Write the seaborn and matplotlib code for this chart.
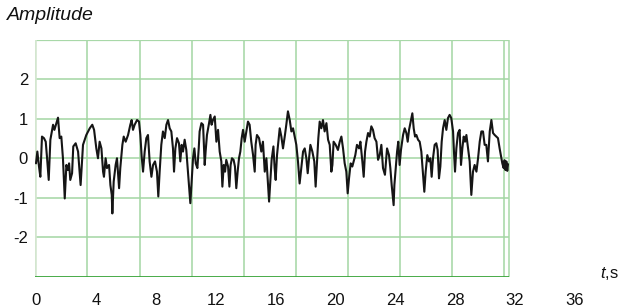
import numpy as np
import pandas as pd
import matplotlib
matplotlib.use("Agg")
import matplotlib.pyplot as plt
import seaborn as sns

# ---- data ----
t_seg1 = [0.00,0.09,0.20,0.29,0.40,0.53,0.65,0.74,0.85,0.96,1.14,1.23,1.36,1.47,1.58,1.69,1.80,1.92,2.03,2.12,
          2.21,2.29,2.41,2.49,2.65,2.81,2.98,3.14,3.36,3.59,3.76,3.88,4.03,4.14,4.25,4.37,4.48,4.54,4.65,4.74,
          4.88,4.97,5.06,5.10,5.19,5.32,5.41,5.55,5.63,5.77,5.86,5.99,6.15,6.30,6.39,6.48,6.59,6.75,6.88,6.97,
          7.06,7.15,7.26,7.37,7.48,7.59,7.71,7.82,7.95]
amp_seg1 = [-0.13,0.17,-0.21,-0.47,0.55,0.51,0.42,0.00,-0.55,0.47,0.85,0.72,0.89,1.03,0.51,0.55,0.00,-1.02,-0.17,-0.30,
            -0.13,-0.55,-0.38,0.30,0.38,0.17,-0.68,0.34,0.59,0.76,0.85,0.72,0.25,0.00,0.42,0.25,-0.34,-0.47,0.00,-0.25,
            -0.17,-0.68,-0.93,-1.40,-0.59,-0.17,0.00,-0.76,-0.25,0.34,0.55,0.42,0.59,0.85,0.97,0.72,0.85,0.97,0.93,0.59,
            0.04,-0.34,0.17,0.51,0.59,-0.08,-0.47,-0.17,-0.08]

t_seg2 = [8.08,8.17,8.26,8.37,8.48,8.60,8.71,8.82,8.93,9.04,9.15,9.22,9.31,9.42,9.55,9.64,9.73,9.82,9.93,10.04,
          10.13,10.22,10.31,10.40,10.49,10.58,10.67,10.78,10.87,10.93,11.05,11.16,11.27,11.33,11.42,11.56,11.65,11.73,11.82,11.94,
          12.05,12.16,12.27,12.38,12.45,12.54,12.63,12.71,12.83,12.92,13.00,13.09,13.20,13.29,13.38,13.47,13.56,13.65,13.74,13.83,
          13.94,14.05,14.16,14.27,14.38,14.50,14.61,14.67,14.76,14.90,15.05,15.16,15.28,15.39,15.48,15.57,15.65,15.74]
amp_seg2 = [-0.34,-0.97,-0.34,0.34,0.68,0.51,0.85,0.97,0.76,0.68,0.25,-0.34,0.25,0.51,0.38,-0.08,0.34,0.17,0.47,0.21,
            -0.25,-0.68,-1.14,-0.59,0.00,0.25,-0.13,-0.25,0.25,0.68,0.89,0.85,-0.17,0.17,0.59,0.89,1.10,0.85,0.97,1.06,
            0.42,0.72,0.17,-0.08,-0.72,-0.17,-0.34,-0.04,-0.21,-0.72,-0.17,0.00,-0.04,-0.21,-0.76,-0.34,0.00,0.17,0.51,0.72,
            0.42,0.68,0.93,0.85,0.42,0.08,-0.34,0.34,0.59,0.51,0.17,0.42,-0.34,0.00,-0.55,-1.10,-0.59,-0.04]

t_seg3 = [15.86,15.94,16.01,16.10,16.19,16.28,16.39,16.50,16.63,16.72,16.83,16.95,17.06,17.17,17.28,17.39,17.50,17.61,17.72,17.84,
          17.95,18.06,18.15,18.24,18.33,18.46,18.59,18.68,18.77,18.86,18.95,19.06,19.17,19.28,19.40,19.51,19.62,19.73,19.80,19.88,
          20.02,20.17,20.29,20.40,20.51,20.62,20.73,20.82,20.91,21.02,21.13,21.22,21.33,21.44,21.58,21.67,21.80,21.89,21.98,22.07,
          22.18,22.29,22.40,22.51,22.62,22.74,22.85,22.96,23.07,23.18,23.31,23.45,23.58,23.67,23.76,23.89]
amp_seg3 = [0.30,-0.25,-0.55,0.08,0.42,0.76,0.55,0.25,0.59,0.85,1.19,0.97,0.68,0.76,0.55,0.34,-0.08,-0.64,-0.25,0.17,
            0.25,0.00,-0.38,0.00,0.34,0.17,-0.08,-0.72,-0.08,0.51,0.93,0.76,0.97,0.68,0.89,0.47,0.34,-0.34,-0.17,0.42,
            0.34,0.21,0.42,0.55,0.25,-0.13,-0.34,-0.89,-0.51,-0.13,-0.21,-0.08,0.08,0.34,0.25,0.42,-0.08,-0.47,0.17,0.42,
            0.64,0.55,0.81,0.72,0.51,0.42,-0.04,0.08,0.34,-0.25,-0.42,0.25,0.08,-0.25,-0.68,-1.19]

t_seg4 = [23.94,24.03,24.12,24.20,24.29,24.38,24.52,24.63,24.74,24.83,24.92,25.03,25.14,25.23,25.32,25.41,25.52,25.63,25.74,25.85,
          25.94,26.03,26.14,26.25,26.34,26.43,26.52,26.63,26.74,26.83,26.92,27.01,27.10,27.19,27.30,27.41,27.52,27.63,27.74,27.86,
          27.92,27.99,28.08,28.19,28.30,28.39,28.48,28.57,28.66,28.75,28.86,28.97,29.08,29.19,29.30,29.42,29.53,29.64,29.75,29.86,
          29.97,30.08,30.19,30.31,30.42,30.53,30.64,30.75,30.86,30.97,31.09,31.15,31.24,31.30,31.36,31.42,31.48,31.53]
amp_seg4 = [-0.68,-0.25,0.17,0.42,-0.17,0.21,0.59,0.76,0.64,0.42,0.72,0.93,1.14,0.76,0.55,0.59,0.47,0.42,0.17,-0.38,
            -0.85,-0.34,0.08,-0.08,0.00,-0.47,0.00,0.34,0.38,0.21,-0.51,-0.21,0.42,0.76,0.97,0.72,1.02,1.10,1.02,0.68,
            0.17,-0.34,0.25,0.64,0.72,-0.17,0.25,0.55,0.42,0.59,0.25,-0.08,-0.93,-0.34,-0.17,-0.34,0.00,0.42,0.68,0.68,
            0.34,0.34,-0.08,0.68,0.97,0.64,0.59,0.55,0.51,0.25,0.00,-0.13,-0.25,-0.05,-0.30,-0.08,-0.32,-0.15]

x_ticks = [0, 4, 8, 12, 16, 20, 24, 28, 32, 36]
y_ticks = [-2, -1, 0, 1, 2]
grid_x = [3.43, 6.93, 10.40, 13.89, 17.34, 20.84, 24.32, 27.76, 31.26]
box_x_end = 31.58
y_limits = (-3, 3)

df = pd.DataFrame({
    "t": t_seg1 + t_seg2 + t_seg3 + t_seg4,
    "amp": amp_seg1 + amp_seg2 + amp_seg3 + amp_seg4,
})

# ---- style ----
sns.set_theme(style="white")
plt.rcParams["font.family"] = ["Liberation Sans", "DejaVu Sans"]
plt.rcParams["mathtext.fontset"] = "custom"
plt.rcParams["mathtext.it"] = "Liberation Sans:italic"
plt.rcParams["mathtext.rm"] = "Liberation Sans"

W, H = 622, 308
fig = plt.figure(figsize=(W / 100, H / 100), dpi=100)
# axes: left px 35, right px 600, top px 40, bottom px 276.5
ax = fig.add_axes([35 / W, (H - 276.5) / H, 565 / W, 236.5 / H])
px_per_s = 14.97
ax.set_xlim(-1 / px_per_s, 564 / px_per_s)
ax.set_ylim(*y_limits)
for s in ax.spines.values():
    s.set_visible(False)

grid_c = "#a3d6a3"
x0 = -1 / px_per_s
# horizontal grid
ax.hlines(y_ticks, x0, box_x_end, colors=grid_c, lw=1.1, zorder=1)
# vertical grid
ax.vlines(grid_x, y_limits[0], y_limits[1], colors=grid_c, lw=1.1, zorder=1)
# frame
ax.hlines([y_limits[1]], x0, box_x_end, colors="#a8d8a8", lw=1.6, zorder=1)
ax.vlines([box_x_end], y_limits[0], y_limits[1], colors="#a8d8a8", lw=1.1, zorder=1)
ax.vlines([x0 + 0.03], y_limits[0], y_limits[1], colors="#d3e6cf", lw=2.6, zorder=1)
ax.hlines([y_limits[0]], x0, box_x_end, colors="#3aa53a", lw=1.3, zorder=2)

sns.lineplot(data=df, x="t", y="amp", ax=ax, estimator=None, sort=False,
             color="#151515", lw=1.5, zorder=3)

ax.set_xticks(x_ticks)
ax.set_xticklabels([str(v) for v in x_ticks])
ax.set_yticks(y_ticks)
ax.set_yticklabels([str(v) for v in y_ticks])
ax.tick_params(axis="both", length=0, labelsize=12, colors="#111111")
ax.tick_params(axis="x", pad=12)
ax.tick_params(axis="y", pad=5)
ax.set_xlabel("")
ax.set_ylabel("")

fig.text(7 / W, (H - 20) / H, "Amplitude", fontsize=14, style="italic",
         ha="left", va="baseline", color="#111111")
fig.text(600 / W, (H - 278) / H, r"$\mathit{t}$,s", fontsize=12,
         ha="left", va="baseline", color="#111111")

fig.savefig("out.png", dpi=100)
